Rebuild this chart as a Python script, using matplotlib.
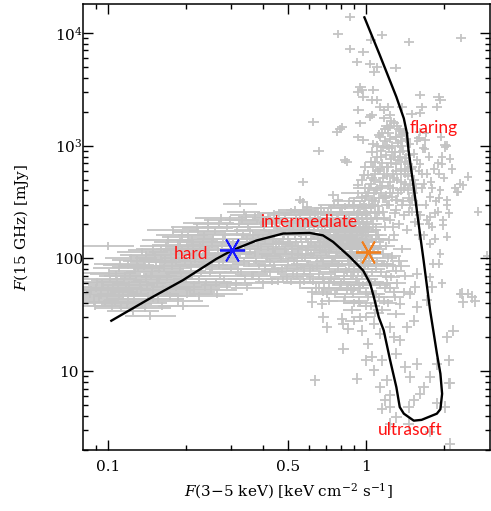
import numpy as np
import matplotlib
matplotlib.use('Agg')
import matplotlib.pyplot as plt
from matplotlib.ticker import FixedLocator, FixedFormatter, NullFormatter

plt.rcParams['font.family'] = 'DejaVu Serif'
plt.rcParams['mathtext.fontset'] = 'dejavuserif'

# hard state cloud (broad x errors)
hard_x = [0.085, 0.088, 0.09, 0.092, 0.095, 0.097, 0.1, 0.1, 0.102, 0.104,
          0.105, 0.107, 0.11, 0.11, 0.112, 0.115, 0.117, 0.12, 0.12, 0.122,
          0.125, 0.127, 0.13, 0.13, 0.133, 0.135, 0.138, 0.14, 0.14, 0.143,
          0.146, 0.148, 0.15, 0.15, 0.153, 0.156, 0.158, 0.16, 0.162, 0.165,
          0.168, 0.17, 0.172, 0.175, 0.178, 0.18, 0.183, 0.186, 0.19, 0.19,
          0.193, 0.196, 0.2, 0.2, 0.204, 0.207, 0.21, 0.213, 0.216, 0.22,
          0.223, 0.226, 0.23, 0.233, 0.236, 0.24, 0.243, 0.246, 0.25, 0.253,
          0.256, 0.26, 0.264, 0.268, 0.272, 0.276, 0.28, 0.284, 0.288, 0.292,
          0.296, 0.3,
          0.086, 0.089, 0.091, 0.094, 0.096, 0.099, 0.101, 0.103, 0.106, 0.108,
          0.109, 0.111, 0.114, 0.116, 0.118, 0.121, 0.123, 0.126, 0.128, 0.131,
          0.134, 0.136, 0.139, 0.141, 0.144, 0.147, 0.149, 0.152, 0.155, 0.157,
          0.161, 0.163, 0.166, 0.169, 0.171, 0.174, 0.177, 0.181, 0.184, 0.187,
          0.191, 0.194, 0.198, 0.202, 0.205, 0.209, 0.212, 0.215, 0.218, 0.221,
          0.225, 0.228, 0.231, 0.235, 0.238, 0.241, 0.245, 0.248, 0.252, 0.255,
          0.259, 0.262, 0.266, 0.27, 0.274, 0.278, 0.282, 0.286, 0.29, 0.294]
hard_y = [48, 42, 55, 45, 60, 40, 52, 128, 66, 38,
          58, 72, 46, 82, 36, 62, 54, 88, 42, 70,
          34, 78, 50, 96, 60, 40, 86, 68, 108, 46,
          31, 76, 56, 118, 92, 44, 64, 100, 38, 82,
          130, 52, 72, 110, 177, 60, 92, 42, 140, 78,
          120, 38, 66, 100, 155, 50, 86, 126, 58, 110,
          170, 46, 76, 140, 95, 62, 185, 120, 52, 84,
          150, 105, 48, 200, 70, 130, 92, 165, 58, 112,
          220, 80,
          52, 38, 62, 47, 56, 44, 74, 50, 41, 64,
          55, 90, 48, 70, 39, 58, 100, 44, 66, 84,
          52, 115, 36, 58, 95, 70, 48, 104, 62, 80,
          122, 54, 96, 68, 145, 46, 86, 114, 56, 132,
          70, 160, 90, 48, 118, 74, 145, 54, 98, 190,
          66, 128, 88, 160, 56, 108, 205, 74, 135, 98,
          175, 60, 118, 88, 230, 150, 66, 100, 190, 140]

# intermediate state cloud
inter_x = [0.305, 0.314, 0.318, 0.322, 0.328, 0.333, 0.338, 0.344, 0.347, 0.352,
           0.356, 0.362, 0.366, 0.371, 0.377, 0.382, 0.386, 0.392, 0.397, 0.402,
           0.407, 0.413, 0.418, 0.424, 0.428, 0.434, 0.438, 0.445, 0.449, 0.454,
           0.458, 0.463, 0.468, 0.474, 0.478, 0.484, 0.489, 0.493, 0.498, 0.504,
           0.508, 0.513, 0.518, 0.523, 0.528, 0.534, 0.538, 0.545, 0.549, 0.553,
           0.558, 0.563, 0.568, 0.574, 0.578, 0.584, 0.588, 0.594, 0.598, 0.604,
           0.608, 0.613, 0.618, 0.624, 0.628, 0.634, 0.638, 0.645, 0.649, 0.653,
           0.658, 0.663, 0.668, 0.674, 0.678, 0.684, 0.688, 0.694, 0.698, 0.704,
           0.708, 0.713, 0.718, 0.724, 0.728, 0.734, 0.738, 0.745, 0.749, 0.753,
           0.758, 0.763, 0.768, 0.774, 0.778, 0.784, 0.788, 0.794, 0.798, 0.804,
           0.808, 0.813, 0.818, 0.824, 0.828, 0.834, 0.838, 0.845, 0.849, 0.853,
           0.858, 0.863, 0.868, 0.874, 0.878, 0.884, 0.888, 0.894, 0.898, 0.904,
           0.908, 0.913, 0.918, 0.924, 0.928, 0.934, 0.938, 0.945, 0.949, 0.953,
           0.958, 0.963, 0.968, 0.974, 0.978, 0.984, 0.988, 0.994, 0.998, 1.004,
           1.008, 1.013, 1.018, 1.024, 1.028, 1.034, 1.038, 1.045, 1.049, 1.053,
           0.325, 0.335,
           0.31, 0.315, 0.32, 0.325, 0.33, 0.335, 0.34, 0.345, 0.35, 0.355,
           0.36, 0.365, 0.37, 0.375, 0.38, 0.385, 0.39, 0.395, 0.40, 0.405,
           0.41, 0.415, 0.42, 0.425, 0.43, 0.435, 0.44, 0.445, 0.45, 0.455,
           0.46, 0.465, 0.47, 0.475, 0.48, 0.485, 0.49, 0.495, 0.50, 0.505,
           0.51, 0.515, 0.52, 0.525, 0.53, 0.535, 0.54, 0.545, 0.55, 0.555,
           0.56, 0.565, 0.57, 0.575, 0.58, 0.585, 0.59, 0.595, 0.60, 0.605,
           0.61, 0.615, 0.62, 0.625, 0.63, 0.635, 0.64, 0.645, 0.65, 0.655,
           0.66, 0.665, 0.67, 0.675, 0.68, 0.685, 0.69, 0.695, 0.70, 0.705,
           0.71, 0.715, 0.72, 0.725, 0.73, 0.735, 0.74, 0.745, 0.75, 0.755,
           0.76, 0.765, 0.77, 0.775, 0.78, 0.785, 0.79, 0.795, 0.80, 0.805,
           0.81, 0.815, 0.82, 0.825, 0.83, 0.835, 0.84, 0.845, 0.85, 0.855,
           0.86, 0.865, 0.87, 0.875, 0.88, 0.885, 0.89, 0.895, 0.90, 0.905,
           0.91, 0.915, 0.92, 0.925, 0.93, 0.935, 0.94, 0.945, 0.95, 0.955,
           0.96, 0.965, 0.97, 0.975, 0.98, 0.985, 0.99, 0.995, 1.0, 1.01]
inter_y = [140, 60, 100, 200, 75, 160, 120, 240, 55, 90,
           180, 135, 70, 110, 210, 155, 85, 125, 60, 190,
           145, 100, 230, 75, 165, 118, 88, 205, 135, 62,
           250, 105, 175, 80, 150, 120, 215, 68, 95, 185,
           140, 260, 110, 72, 160, 230, 88, 128, 200, 60,
           150, 100, 270, 78, 175, 120, 215, 90, 140, 65,
           245, 108, 165, 82, 190, 130, 55, 100, 230, 150,
           72, 118, 280, 175, 92, 135, 60, 205, 112, 155,
           48, 255, 85, 180, 125, 66, 220, 100, 145, 300,
           75, 170, 115, 52, 240, 135, 90, 195, 62, 155,
           280, 105, 42, 180, 125, 78, 230, 145, 95, 58,
           320, 165, 115, 70, 205, 135, 48, 88, 260, 155,
           105, 185, 65, 125, 380, 225, 80, 145, 40, 170,
           100, 290, 120, 58, 200, 140, 85, 340, 160, 70,
           250, 110, 45, 190, 130, 420, 90, 225, 60, 150,
           305, 258,
           110, 175, 80, 130, 220, 95, 65, 150, 190, 115,
           72, 160, 235, 95, 130, 65, 200, 105, 150, 80,
           220, 120, 170, 92, 62, 140, 250, 110, 180, 78,
           135, 210, 98, 65, 160, 240, 115, 82, 150, 205,
           62, 125, 180, 95, 270, 140, 70, 110, 165, 240,
           85, 130, 195, 62, 100, 150, 260, 118, 180, 80,
           140, 210, 62, 105, 160, 250, 125, 85, 190, 55,
           140, 220, 100, 160, 68, 260, 125, 180, 85, 140,
           200, 60, 115, 160, 280, 95, 180, 130, 62, 210,
           100, 150, 240, 80, 170, 120, 55, 260, 140, 90,
           200, 125, 65, 160, 290, 105, 185, 75, 135, 240,
           95, 200, 150, 55, 110, 175, 300, 130, 75, 210,
           145, 95, 250, 170, 115, 60, 200, 130, 300, 90,
           160, 230, 110, 75, 180, 260, 125, 200, 95, 140]

# dense soft/flaring column left of the track
flare_x = [0.92, 0.95, 0.97, 1.0, 1.02, 1.04, 1.06, 1.08, 1.1, 1.12,
           1.14, 1.16, 1.18, 1.2, 1.22, 1.24, 1.26, 1.28, 1.3, 1.32,
           1.34, 1.36, 1.38, 1.4, 1.42, 1.44, 1.46, 1.48, 1.5, 1.52,
           1.55, 1.58, 1.6, 1.62, 0.98, 1.0, 1.03, 1.05, 1.07, 1.09,
           1.11, 1.13, 1.15, 1.17, 1.19, 1.21, 1.23, 1.25, 1.27, 1.29,
           1.31, 1.33, 1.35, 1.37, 1.39, 1.41, 1.43, 1.45, 1.47, 1.5,
           1.53, 1.56, 1.02, 1.06, 1.1, 1.14, 1.18, 1.22, 1.26, 1.3,
           1.34, 1.38, 1.1, 1.2, 0.96, 0.99, 1.08, 1.16, 1.24, 1.32,
           1.4, 1.48,
           0.93, 0.96, 0.99, 1.01, 1.03, 1.05, 1.07, 1.09, 1.11, 1.13,
           1.15, 1.17, 1.19, 1.21, 1.23, 1.25, 1.27, 1.29, 1.31, 1.33,
           1.35, 1.37, 1.39, 1.41, 1.43, 1.45, 1.47, 1.49, 1.51, 1.54,
           1.57, 1.6, 1.0, 1.04, 1.08, 1.12, 1.16, 1.2, 1.24, 1.28,
           1.32, 1.36, 1.4, 1.05, 1.15, 1.25, 0.94, 0.97, 1.09, 1.27,
           0.88, 0.9, 0.93, 0.95, 0.98, 1.0, 1.02, 1.04, 1.06, 1.08,
           1.1, 1.12, 1.14, 1.16, 1.18, 1.2, 1.22, 1.24, 1.26, 1.28,
           1.3, 1.33, 1.36, 1.38, 1.42, 1.45, 1.12, 1.18, 1.28, 1.35]
flare_y = [150, 180, 210, 240, 170, 280, 200, 320, 230, 150,
           380, 260, 190, 300, 440, 220, 350, 160, 270, 500,
           200, 400, 300, 240, 600, 180, 340, 450, 260, 380,
           210, 300, 160, 240, 300, 360, 420, 330, 500, 400,
           600, 480, 700, 560, 820, 650, 950, 760, 560, 880,
           680, 1050, 800, 620, 900, 720, 1150, 540, 820, 640,
           500, 420, 550, 640, 800, 900, 1100, 1300, 1000, 1200,
           1400, 1250, 1000, 1500, 500, 650, 250, 340, 480, 330,
           420, 300,
           260, 350, 420, 200, 300, 520, 380, 180, 290, 620,
           440, 230, 360, 540, 300, 700, 420, 250, 600, 380,
           880, 480, 320, 560, 780, 400, 260, 620, 330, 460,
           260, 200, 280, 460, 720, 340, 980, 640, 1150, 800,
           1500, 1100, 1300, 880, 1300, 1650, 210, 170, 150, 190,
           200, 320, 450, 260, 550, 190, 380, 720, 300, 560,
           420, 260, 800, 520, 340, 1000, 640, 380, 880, 520,
           330, 750, 560, 1000, 460, 680, 1250, 1400, 1600, 1350]

# sparse points, upper part of the plot
upper_x = [0.78, 0.867, 0.867, 1.045, 1.15, 1.47, 2.33, 0.92, 1.036, 1.077,
           1.10, 1.30, 0.976, 0.962, 0.934, 0.976, 1.067, 1.05, 1.10, 1.13,
           1.17, 1.05, 1.22, 1.24, 1.17, 1.036, 1.375, 1.50, 1.62, 1.64,
           1.62, 1.91, 1.88, 1.94, 0.805, 1.22, 1.24, 1.31, 1.13, 0.934,
           0.976, 1.067, 1.62, 1.69, 2.02, 1.60, 0.625, 0.79, 0.77, 0.654,
           0.83, 0.57, 0.747, 0.57, 0.59, 0.78, 0.84, 0.555, 0.95, 0.934,
           0.95]
upper_y = [9800, 13800, 7240, 8600, 9550, 8300, 9000, 5500, 5330, 4530,
           5000, 4840, 6760, 3100, 3000, 2700, 3100, 2520, 2520, 2200,
           2050, 1860, 2200, 1860, 1740, 1800, 2200, 1920, 2800, 2200,
           1930, 2700, 2200, 2520, 1460, 1420, 1460, 1190, 1190, 1180,
           1110, 1040, 1320, 1110, 1010, 1160, 1620, 1410, 1320, 896,
           740, 475, 363, 316, 285, 327, 716, 327, 1570, 2050,
           3330]

# points right of the flaring track
right_x = [1.48, 1.53, 1.62, 1.72, 1.67, 1.80, 2.06, 1.97, 2.25, 2.49,
           2.38, 1.91, 2.06, 1.99, 2.72, 1.77, 2.11, 2.02, 2.06, 1.99,
           2.06, 1.94, 1.91, 2.31, 2.49, 1.97, 1.77, 1.82, 1.77, 1.80,
           1.85, 1.77, 1.64, 1.57, 1.69, 1.97, 1.91, 1.94, 2.21, 2.31,
           2.28, 2.93,
           1.6, 1.65, 1.7, 1.75, 1.78, 1.83, 1.86, 1.9, 1.72, 1.68,
           1.85, 2.0, 2.15, 1.95, 1.7, 2.1, 1.58, 1.66, 1.75, 1.9]
right_y = [1040, 850, 690, 565, 460, 417, 1000, 795, 390, 530,
           444, 340, 295, 217, 258, 235, 767, 970, 327, 197,
           155, 110, 90, 48.6, 48.6, 60, 68, 90, 135, 190,
           250, 350, 565, 740, 940, 690, 565, 400, 417, 460,
           390, 106,
           600, 420, 300, 800, 480, 620, 320, 260, 220, 160,
           150, 520, 620, 1200, 1300, 250, 1100, 950, 200, 700]

# dense bridge between intermediate and ultrasoft
bridge_x = [0.80, 0.83, 0.86, 0.88, 0.90, 0.92, 0.94, 0.96, 0.98, 1.00,
            1.02, 1.04, 1.06, 1.08, 1.10, 1.12, 1.14, 1.16, 1.18, 1.20,
            1.22, 1.25, 1.28, 1.31, 0.85, 0.89, 0.93, 0.97, 1.01, 1.05,
            1.09, 1.13, 1.17, 1.21, 1.26, 1.30, 0.95, 1.03, 1.11, 1.19,
            0.91, 0.99, 1.07, 1.15, 1.23, 0.87, 1.34, 1.38, 1.42,
            0.82, 0.84, 0.87, 0.9, 0.93, 0.95, 0.98, 1.0, 1.03, 1.05,
            1.07, 1.09, 1.11, 1.13, 1.15, 1.17, 1.19, 1.22, 1.24, 1.27,
            1.29, 1.32, 1.36, 1.4, 0.76, 0.72, 0.68, 0.9, 1.0, 1.08]
bridge_y = [60, 45, 80, 35, 55, 95, 42, 70, 110, 50,
            85, 38, 125, 62, 95, 45, 75, 110, 55, 88,
            40, 68, 50, 32, 100, 70, 120, 58, 140, 75,
            48, 130, 90, 60, 105, 78, 30, 100, 160, 130,
            65, 90, 115, 35, 145, 52, 95, 120, 70,
            70, 52, 95, 40, 75, 55, 85, 38, 65, 100,
            48, 80, 120, 58, 90, 42, 70, 100, 55, 85,
            45, 60, 85, 50, 48, 42, 50, 28, 30, 33]

# sparse ultrasoft / low radio points
soft_x = [0.634, 0.817, 0.92, 0.616, 0.674, 0.704, 0.854, 0.805, 0.962, 1.02,
          1.05, 1.15, 1.28, 1.44, 1.35, 1.53, 1.57, 1.55, 1.48, 1.35,
          1.72, 1.80, 1.57, 2.35, 2.57, 2.18, 2.06, 2.09, 2.11, 1.88,
          1.77, 1.67, 1.57, 1.42, 1.48, 1.62, 1.53, 1.46, 1.88, 2.02,
          1.20, 1.13, 1.24, 1.18, 1.24, 1.15, 1.31, 1.24, 1.46, 1.77,
          2.11, 1.07, 1.0, 0.683, 0.817, 1.07, 1.13, 1.24, 1.31, 2.38,
          2.64, 2.09, 0.616]
soft_y = [8.3, 15.8, 8.55, 50, 39.6, 24.5, 23.8, 29, 22.9, 17.5,
          13.4, 12.5, 20, 24.5, 18.8, 28, 37, 55.7, 48.6, 39.6,
          42.4, 55.7, 73, 48.6, 45.4, 22.9, 20, 12.5, 7.8, 11.6,
          8.9, 7.2, 11.6, 10.9, 8.9, 6.3, 5.5, 4.8, 5.2, 4.8,
          8.3, 7.2, 6.1, 5.5, 4.8, 4.65, 3.9, 3.4, 3.4, 2.9,
          2.27, 10.2, 12.5, 30, 26.3, 26.3, 21.5, 24.5, 14.3, 41,
          42, 7.8, 41]

# hysteresis track
track_x = [0.103, 0.145, 0.195, 0.263, 0.303, 0.376, 0.477, 0.605, 0.68, 0.745,
           0.865, 0.974, 1.036, 1.07, 1.12, 1.17, 1.24, 1.31, 1.35, 1.40,
           1.53, 1.64, 1.88, 1.94, 1.97, 1.94, 1.88, 1.77, 1.67, 1.63,
           1.55, 1.46, 1.44, 1.40, 1.31, 1.13, 0.985]
track_y = [28, 44, 64, 99, 118, 144, 166, 168, 160, 140,
           103, 78, 60, 46, 30, 23, 12.4, 7.2, 4.8, 4.2,
           3.64, 3.7, 4.2, 4.6, 6.3, 9.5, 14.4, 34.6, 96, 144,
           340, 908, 1280, 1740, 2700, 6340, 13700]

hard_mark = (0.303, 118)
soft_mark = (1.02, 114)

gray = '#c4c4c4'

fig = plt.figure(figsize=(4.91, 5.11), dpi=100)
ax = fig.add_axes([83/491, 61/511, 407/491, 446/511])
ax.set_xscale('log')
ax.set_yscale('log')


def crosses(xs, ys, dx, dy):
    xs = np.array(xs)
    ys = np.array(ys)
    ax.errorbar(xs, ys,
                xerr=[xs - xs / 10**dx, xs * 10**dx - xs],
                yerr=[ys - ys / 10**dy, ys * 10**dy - ys],
                fmt='none', ecolor=gray, elinewidth=1.3, capsize=0, zorder=1)


crosses(hard_x, hard_y, 0.1, 0.035)
crosses(inter_x, inter_y, 0.065, 0.03)
crosses(flare_x, flare_y, 0.02, 0.04)
crosses(upper_x, upper_y, 0.02, 0.035)
crosses(right_x, right_y, 0.015, 0.04)
crosses(bridge_x, bridge_y, 0.035, 0.035)
crosses(soft_x, soft_y, 0.02, 0.05)

ax.plot(track_x, track_y, color='black', lw=1.7, zorder=3)
ax.plot(*hard_mark, marker=(6, 2, 30), ms=18, mew=1.3, color='#1a1aff', zorder=4)
ax.plot(*soft_mark, marker=(6, 2, 30), ms=18, mew=1.3, color='#f08020', zorder=4)

lab = dict(color='#ff1010', fontsize=12.5, family='Lato', zorder=5)
ax.text(0.245, 110, 'hard', ha='right', va='center', **lab)
ax.text(0.388, 210, 'intermediate', ha='left', va='center', **lab)
ax.text(1.48, 1420, 'flaring', ha='left', va='center', **lab)
ax.text(1.113, 2.98, 'ultrasoft', ha='left', va='center', **lab)

ax.set_xlim(0.08, 3.02)
ax.set_ylim(2.0, 18000)

ax.xaxis.set_major_locator(FixedLocator([0.1, 0.5, 1]))
ax.xaxis.set_major_formatter(FixedFormatter(['0.1', '0.5', '1']))
ax.xaxis.set_minor_locator(FixedLocator([0.09, 0.2, 0.3, 0.4, 0.6, 0.7, 0.8, 0.9, 2]))
ax.xaxis.set_minor_formatter(NullFormatter())
ax.yaxis.set_major_locator(FixedLocator([10, 100, 1000, 10000]))
ax.yaxis.set_major_formatter(FixedFormatter(['10', '100', '$10^3$', '$10^4$']))
ymin = [k * 10**e for e in range(0, 4) for k in range(2, 10)] + [2e4]
ax.yaxis.set_minor_locator(FixedLocator(ymin))
ax.yaxis.set_minor_formatter(NullFormatter())

ax.tick_params(which='both', direction='in', top=True, right=True, width=1.0)
ax.tick_params(which='major', length=7.2, labelsize=11)
ax.tick_params(which='minor', length=3.6)
ax.tick_params(axis='y', which='major', pad=10)
ax.tick_params(axis='x', which='major', pad=7)
for t in ax.get_yticklabels():
    t.set_horizontalalignment('center')
for s in ax.spines.values():
    s.set_linewidth(1.1)

ax.set_xlabel(r'$F$(3$-$5 keV) [keV cm$^{-2}$ s$^{-1}$]', fontsize=11)
ax.set_ylabel(r'$F$(15 GHz) [mJy]', fontsize=11)
ax.xaxis.label.set_verticalalignment('center')
ax.xaxis.set_label_coords(0.504, -0.092)
ax.yaxis.label.set_verticalalignment('center')
ax.yaxis.set_label_coords(-0.150, 0.5)

fig.savefig('out.png', dpi=100)
